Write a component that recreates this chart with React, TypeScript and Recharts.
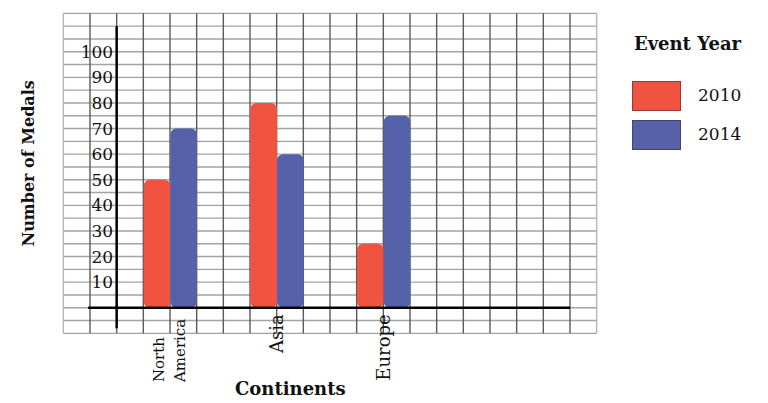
import React from "react";
import { BarChart, Bar, XAxis, YAxis, CartesianGrid, ReferenceLine, Legend } from "recharts";

const continents = ["North America", "Asia", "Europe"];
const medals2010 = [50, 80, 25];
const medals2014 = [70, 60, 75];
const yTicks = [10, 20, 30, 40, 50, 60, 70, 80, 90, 100];
const yDomain = [-10, 115];

const RED = "#f0533f";
const BLUE = "#5561a9";
const FONT = "'DejaVu Serif', serif";

// graph paper: 20 columns x 25 rows (5 medals per row)
const COLS = 20;
const ROWS = 25;
const plotLeft = 63.33;
const plotTop = 13.33;
const plotW = 533.33;
const plotH = 320;
const col = plotW / COLS;

const data = continents.map((name, i) => ({ name, v2010: medals2010[i], v2014: medals2014[i] }));

const fallback = { left: plotLeft, top: plotTop, width: plotW, height: plotH };
const innerV = (a: any) => {
  const o = a?.offset ?? fallback;
  return Array.from({ length: COLS - 1 }, (_, i) => o.left + ((i + 1) * o.width) / COLS);
};
const edgeV = (a: any) => {
  const o = a?.offset ?? fallback;
  return [o.left, o.left + o.width];
};
const rowsH = (a: any) => {
  const o = a?.offset ?? fallback;
  return Array.from({ length: ROWS + 1 }, (_, i) => o.top + (i * o.height) / ROWS);
};

const YTick = ({ x, y, payload }: any) => (
  <text x={x + 2 * col - 3.5} y={y} textAnchor="end" dominantBaseline="central"
    fontFamily={FONT} fontSize={17} fill="#111">
    {payload.value}
  </text>
);

const XTick = ({ x, y, payload }: any) => {
  const words = String(payload.value).split(" ");
  if (words.length > 1) {
    const ty = y + 48.7;
    return (
      <g>
        {words.map((w, i) => {
          const cx = x + (i - (words.length - 1) / 2) * 21;
          return (
            <text key={i} x={cx} y={ty} transform={`rotate(-90 ${cx} ${ty})`} textAnchor="start"
              dominantBaseline="central" fontFamily={FONT} fontSize={15} fill="#111">
              {w}
            </text>
          );
        })}
      </g>
    );
  }
  const ty = y - 19;
  return (
    <text x={x} y={ty} transform={`rotate(-90 ${x} ${ty})`} textAnchor="end"
      dominantBaseline="central" fontFamily={FONT} fontSize={18} fill="#111">
      {payload.value}
    </text>
  );
};

const XAxisLine = (p: any) => (
  <line x1={p.x1 + col * 0.93} x2={p.x2 - col} y1={p.y1} y2={p.y2} stroke="#000" strokeWidth={2.5} />
);

const LegendBox = ({ payload }: any) => (
  <div style={{ position: "relative", width: 168, height: 160, fontFamily: FONT, color: "#111" }}>
    <div style={{ position: "absolute", left: 0, width: 175, top: 33, textAlign: "center", fontWeight: "bold", fontSize: 18 }}>
      Event Year
    </div>
    {(payload || []).map((entry: any, i: number) => (
      <div key={entry.value}>
        <div style={{ position: "absolute", left: 32, top: 81 + i * 39, width: 47, height: 28,
          background: entry.color, border: "1px solid rgba(60,40,60,0.55)" }} />
        <div style={{ position: "absolute", left: 98, top: 84 + i * 39, fontSize: 17, lineHeight: "22px" }}>
          {entry.value}
        </div>
      </div>
    ))}
  </div>
);

export default function App() {
  return (
    <div style={{ position: "absolute", left: 0, top: 0, width: 768, height: 403, background: "#fff" }}>
      <BarChart width={768} height={403} data={data} barGap={0}
        margin={{ top: plotTop, right: 768 - plotLeft - plotW, bottom: 0, left: 0 }}>
        <CartesianGrid vertical={false} horizontalCoordinatesGenerator={rowsH} stroke="#a3a3a3" strokeWidth={1.4} />
        <CartesianGrid horizontal={false} verticalCoordinatesGenerator={innerV} stroke="#5a5a5a" strokeWidth={1.4} />
        <CartesianGrid horizontal={false} verticalCoordinatesGenerator={edgeV} stroke="#b5b5b5" strokeWidth={1.4} />
        <XAxis dataKey="name" height={403 - plotTop - plotH} padding={{ left: 2 * col, right: 6 * col }}
          axisLine={false} tickLine={false} tickSize={0} tickMargin={0} interval={0} tick={<XTick />}
          label={{
            content: ({ viewBox }: any) => (
              <text x={viewBox.x + 227} y={viewBox.y + 62} textAnchor="middle" fontFamily={FONT}
                fontWeight="bold" fontSize={18} fill="#111">
                Continents
              </text>
            ),
          }} />
        <YAxis type="number" domain={yDomain} ticks={yTicks} interval={0} width={plotLeft}
          axisLine={false} tickLine={false} tickSize={0} tickMargin={0} tick={<YTick />}
          label={{
            content: ({ viewBox }: any) => {
              const cx = viewBox.x + 29;
              const cy = viewBox.y + viewBox.height / 2 - 10;
              return (
                <text x={cx} y={cy} transform={`rotate(-90 ${cx} ${cy})`} textAnchor="middle"
                  dominantBaseline="central" fontFamily={FONT} fontWeight="bold" fontSize={16} fill="#111">
                  Number of Medals
                </text>
              );
            },
          }} />
        <Legend layout="vertical" align="center" verticalAlign="middle" content={<LegendBox />}
          wrapperStyle={{ left: 600, top: 0, width: 168, height: 160 }} />
        <Bar dataKey="v2010" name="2010" fill={RED} barSize={col} radius={6} isAnimationActive={false} />
        <Bar dataKey="v2014" name="2014" fill={BLUE} barSize={col} radius={6} isAnimationActive={false} />
        <ReferenceLine y={0} shape={XAxisLine} ifOverflow="visible" />
        <ReferenceLine segment={[{ x: continents[0], y: 110 }, { x: continents[0], y: -8 }]}
          position="start" stroke="#000" strokeWidth={2.5} ifOverflow="visible" />
      </BarChart>
    </div>
  );
}
